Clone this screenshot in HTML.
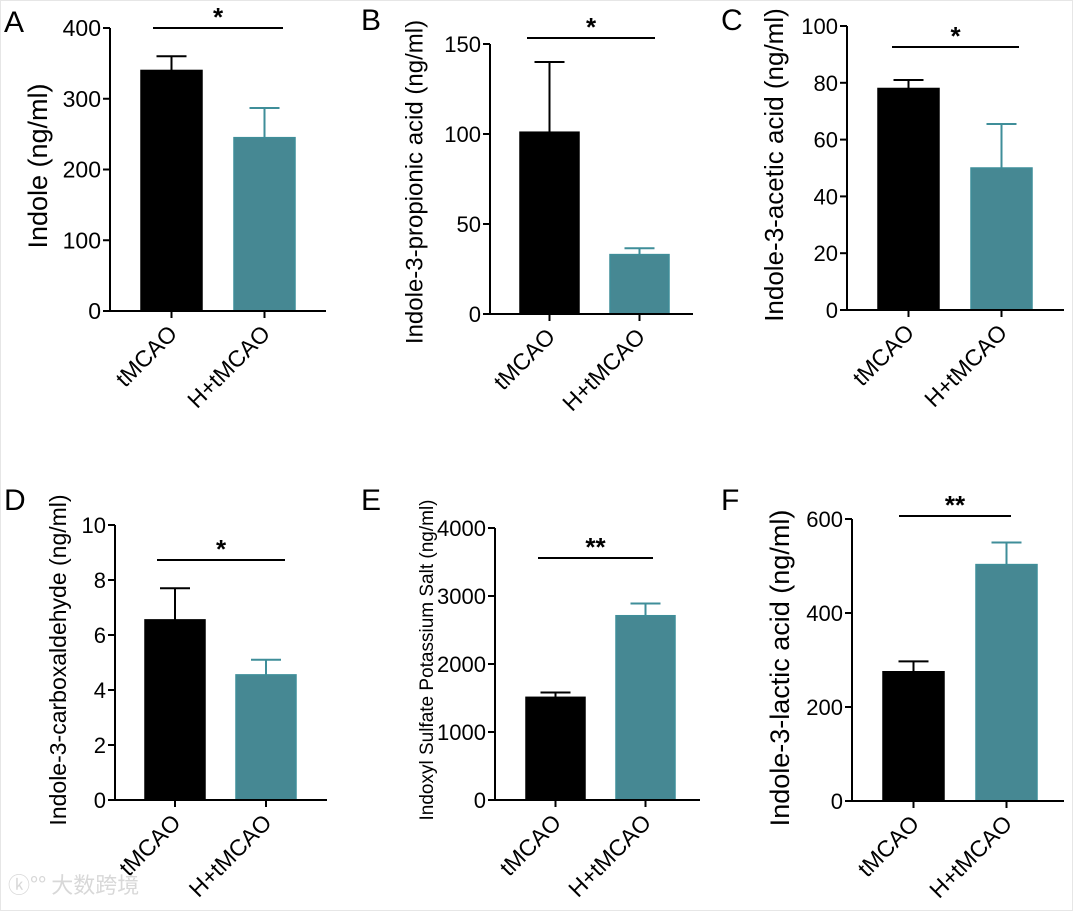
<!DOCTYPE html>
<html><head><meta charset="utf-8"><style>
body{margin:0;background:#fff}
svg{display:block;font-family:"Liberation Sans",Arial,sans-serif}
</style></head><body>
<svg id="fig" width="1073" height="911" viewBox="0 0 1073 911" xmlns="http://www.w3.org/2000/svg">
<rect x="0" y="0" width="1073" height="911" fill="#fff"/>
<rect x="0.5" y="0.5" width="1072" height="910" fill="none" stroke="#e6e6e6"/>
<text x="8" y="893" font-family="'Noto Sans CJK SC',sans-serif" font-size="22" fill="#d8d8d8">ⓚ°° 大数跨境</text>
</svg>
<script>
const categories = ["tMCAO", "H+tMCAO"];
const panelLetters = ["A","B","C","D","E","F"];
const yTitles = ["Indole (ng/ml)","Indole-3-propionic acid (ng/ml)","Indole-3-acetic acid (ng/ml)","Indole-3-carboxaldehyde (ng/ml)","Indoxyl Sulfate Potassium Salt (ng/ml)","Indole-3-lactic acid (ng/ml)"];
const meansA = [340, 245], errA = [20, 42];
const meansB = [101, 33], errB = [39, 3.5];
const meansC = [78, 50], errC = [3, 15.5];
const meansD = [6.55, 4.55], errD = [1.15, 0.55];
const meansE = [1510, 2710], errE = [70, 180];
const meansF = [275, 503], errF = [22, 47];
const yMaxes = [400, 150, 100, 10, 4000, 600];
const tickA = [0,100,200,300,400], tickB = [0,50,100,150], tickC = [0,20,40,60,80,100];
const tickD = [0,2,4,6,8,10], tickE = [0,1000,2000,3000,4000], tickF = [0,200,400,600];
const sigLabels = ["*","*","*","*","**","**"];

const layouts = [
 {ax:110,y0:311,yT:28,xEnd:326,b:[141,234],bw:61,sig:[153,283,28],tx:40,ty:166,tf:27,lx:4,ly:32,tk:23},
 {ax:490,y0:314,yT:44,xEnd:693,b:[520,610],bw:59,sig:[527,655,38],tx:416,ty:182,tf:24,lx:361,ly:30,tk:22},
 {ax:847,y0:310,yT:26,xEnd:1064,b:[878,971],bw:61,sig:[892,1019,47],tx:776,ty:165,tf:26,lx:721,ly:30,tk:22},
 {ax:115,y0:800,yT:525,xEnd:327,b:[145,236],bw:60,sig:[157,285,560],tx:60,ty:660,tf:23,lx:4,ly:510,tk:22},
 {ax:495,y0:800,yT:528,xEnd:700,b:[526,616],bw:59,sig:[538,653,558],tx:428,ty:660,tf:19,lx:361,ly:510,tk:22},
 {ax:852,y0:801,yT:519,xEnd:1064,b:[883,976],bw:61,sig:[899,1011,516],tx:782,ty:668,tf:27,lx:721,ly:510,tk:22}
];
const means=[meansA,meansB,meansC,meansD,meansE,meansF];
const errs=[errA,errB,errC,errD,errE,errF];
const ticks=[tickA,tickB,tickC,tickD,tickE,tickF];
const svg=document.getElementById('fig');
const NS="http://www.w3.org/2000/svg";
function mk(tag,attrs,parent,text){const e=document.createElementNS(NS,tag);for(const k in attrs)e.setAttribute(k,attrs[k]);if(text!==undefined)e.textContent=text;parent.appendChild(e);return e;}
const fills=["#000000","#468893"], strokes=["#000000","#3f8e99"];
layouts.forEach((L,p)=>{
  const g=mk('g',{},svg);
  
  
  const yS=v=>L.y0-(v/yMaxes[p])*(L.y0-L.yT);
  const lt=mk('text',{x:L.lx,y:L.ly,'font-size':30,fill:'#000'},g,panelLetters[p]);
  
  
  means[p].forEach((m,i)=>{
    const x=L.b[i], cx=x+L.bw/2, top=yS(m), et=yS(m+errs[p][i]);
    const eb=mk('line',{x1:cx,x2:cx,y1:top,y2:et,stroke:strokes[i],'stroke-width':2},g);
    
    
    const cap=mk('line',{x1:cx-15,x2:cx+15,y1:et,y2:et,stroke:strokes[i],'stroke-width':2},g);
    
    
    const r=mk('rect',{x:x,y:top,width:L.bw,height:L.y0-top,fill:fills[i],stroke:strokes[i],'stroke-width':1.5},g);
    
    
    const tk=mk('line',{x1:cx,x2:cx,y1:L.y0,y2:L.y0+7,stroke:'#000','stroke-width':2},g);
    
    
    const cl=mk('text',{x:cx+7,y:L.y0+24,'font-size':23,'text-anchor':'end',transform:`rotate(-45 ${cx+7} ${L.y0+24})`},g,categories[i]);
    
    
  });
  const ya=mk('line',{x1:L.ax,x2:L.ax,y1:L.yT,y2:L.y0+1,stroke:'#000','stroke-width':2},g);
  
  
  const xa=mk('line',{x1:L.ax-7,x2:L.xEnd,y1:L.y0,y2:L.y0,stroke:'#000','stroke-width':2},g);
  
  
  ticks[p].forEach(t=>{
    const y=yS(t);
    const tl=mk('line',{x1:L.ax-7,x2:L.ax,y1:y,y2:y,stroke:'#000','stroke-width':2},g);
    
    
    const tt=mk('text',{x:L.ax-9,y:y+8,'font-size':L.tk,'text-anchor':'end'},g,String(t));
    
    
  });
  const yt=mk('text',{x:L.tx,y:L.ty,'font-size':L.tf,'text-anchor':'middle',transform:`rotate(-90 ${L.tx} ${L.ty})`,'dominant-baseline':'middle'},g,yTitles[p]);
  
  
  const sl=mk('line',{x1:L.sig[0],x2:L.sig[1],y1:L.sig[2],y2:L.sig[2],stroke:'#000','stroke-width':2},g);
  
  
  const st=mk('text',{x:(L.sig[0]+L.sig[1])/2,y:L.sig[2]-2,'font-size':26,'font-weight':'bold','text-anchor':'middle'},g,sigLabels[p]);
  
  
});
</script>
</body></html>
